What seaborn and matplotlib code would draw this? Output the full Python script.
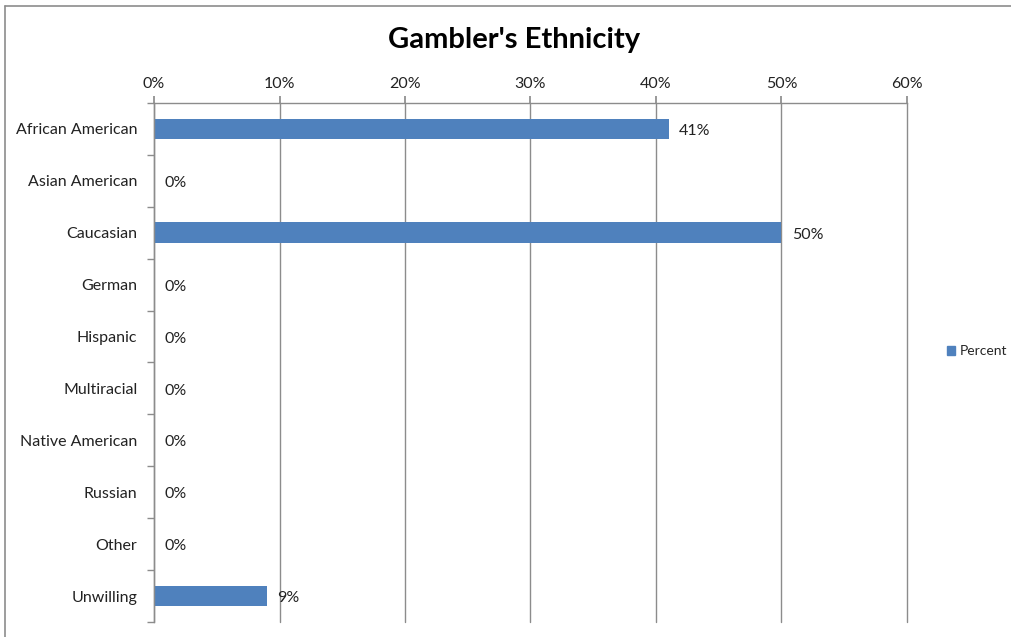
import matplotlib
matplotlib.use("Agg")
import matplotlib.pyplot as plt
import matplotlib.lines as mlines
import matplotlib.patches as mpatches
import seaborn as sns
import pandas as pd
from matplotlib.ticker import FuncFormatter

categories = ["African American", "Asian American", "Caucasian", "German", "Hispanic",
              "Multiracial", "Native American", "Russian", "Other", "Unwilling"]
percent = [41, 0, 50, 0, 0, 0, 0, 0, 0, 9]
x_ticks = [0, 10, 20, 30, 40, 50, 60]

df = pd.DataFrame({"Ethnicity": categories, "Percent": percent})

sns.set_theme(style="white")
plt.rcParams["font.family"] = ["Lato", "DejaVu Sans"]

W, H = 1012, 637
fig = plt.figure(figsize=(W / 100, H / 100), dpi=100)
ax = fig.add_axes([154 / W, 1 - 622 / H, (907 - 154) / W, (622 - 103) / H])

bar_color = "#4F81BD"
sns.barplot(data=df, y="Ethnicity", x="Percent", orient="h", color=bar_color,
            width=0.4, ax=ax, saturation=1, linewidth=0)

ax.set_xlim(0, 60)
ax.set_ylim(len(categories) - 0.5, -0.5)
ax.set_xticks(x_ticks)
ax.xaxis.set_major_formatter(FuncFormatter(lambda v, p: f"{int(v)}%"))
ax.xaxis.tick_top()
ax.xaxis.set_label_position("top")
ax.set_xlabel("")
ax.set_ylabel("")

grid_color = "#8C8C8C"
ax.grid(axis="x", color=grid_color, linewidth=1.0)
for gl in ax.get_xgridlines():
    gl.set_clip_on(False)
ax.set_axisbelow(True)

for side in ["right", "bottom"]:
    ax.spines[side].set_visible(False)
for side in ["top", "left"]:
    ax.spines[side].set_color(grid_color)
    ax.spines[side].set_linewidth(1.0)

ax.tick_params(axis="x", which="major", direction="out", length=5, color=grid_color,
               labelsize=11.5, labelcolor="#222222", pad=4, top=True, bottom=False)
ax.set_yticks(range(len(categories)))
ax.set_yticklabels(categories, va="center_baseline")
ax.tick_params(axis="y", which="major", length=0, labelsize=11.5, labelcolor="#222222", pad=12)
ax.set_yticks([i - 0.5 for i in range(len(categories) + 1)], minor=True)
ax.tick_params(axis="y", which="minor", direction="out", length=5, color=grid_color, left=True)

for i, v in enumerate(percent):
    ax.annotate(f"{v}%", xy=(v, i), xytext=(7.5, -1.5), textcoords="offset points",
                ha="left", va="center", fontsize=11.5, color="#222222")

fig.text(514 / W, 1 - 40 / H, "Gambler's Ethnicity", ha="center", va="center",
         fontsize=21, fontweight="bold", color="black")

handle = mpatches.Patch(color=bar_color, label="Percent")
fig.legend(handles=[handle], loc="center left", bbox_to_anchor=(947 / W, 1 - 351 / H),
           frameon=False, fontsize=10, handlelength=0.6, handleheight=0.6,
           handletextpad=0.3, borderpad=0, borderaxespad=0)

fig.add_artist(mlines.Line2D([5 / W, 1], [1 - 6 / H, 1 - 6 / H], color="#8C8C8C",
                             linewidth=1.2, transform=fig.transFigure))
fig.add_artist(mlines.Line2D([5 / W, 5 / W], [0, 1 - 6 / H], color="#8C8C8C",
                             linewidth=1.2, transform=fig.transFigure))

fig.savefig("out.png", dpi=100)
